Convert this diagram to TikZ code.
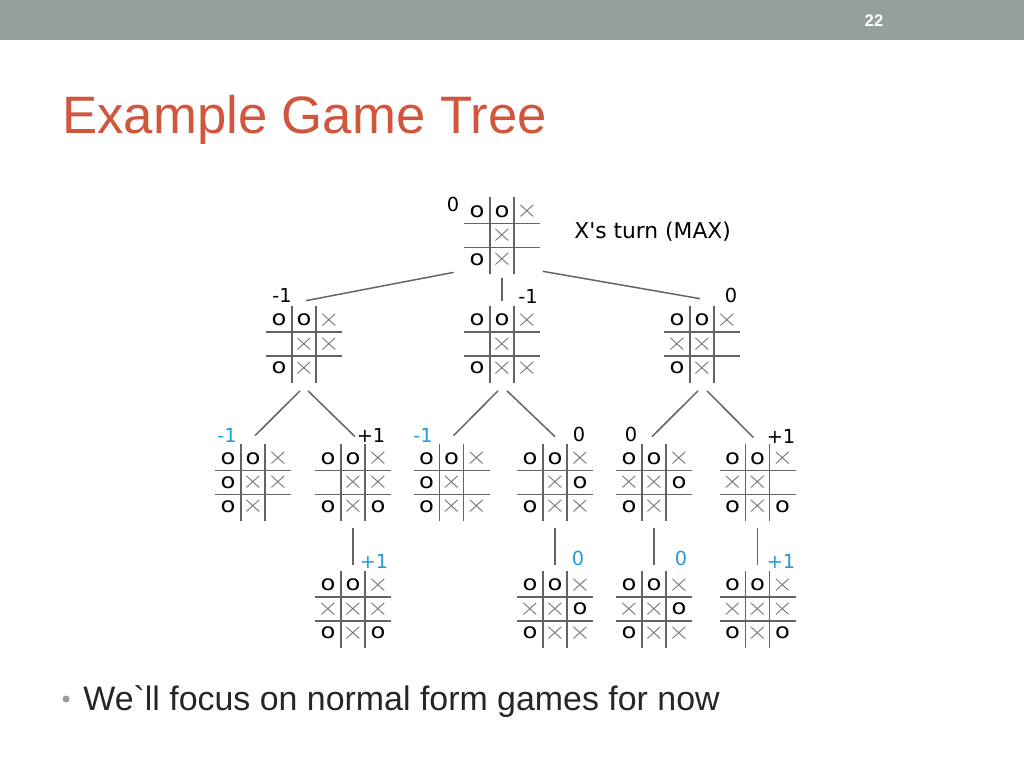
\documentclass[tikz,border=0pt]{standalone}
\usepackage{fontspec}
\setmainfont{Liberation Sans}
\newfontfamily\vfont{DejaVu Sans}

\definecolor{barcolor}{RGB}{148,161,155}
\definecolor{titlered}{RGB}{208,86,62}
\definecolor{bodytext}{RGB}{38,38,38}
\definecolor{linegray}{RGB}{100,100,100}
\definecolor{markgray}{RGB}{115,115,115}
\definecolor{leafblue}{RGB}{35,155,220}

% marks inside the cells
\newcommand{\markO}{{\vfont\fontsize{12pt}{12pt}\selectfont\scalebox{1.15}[1]{o}}}
\newcommand{\markX}{{\fontsize{14.4pt}{14.4pt}\selectfont\color{markgray}\scalebox{1.1}[1]{$\times$}}}
\newcommand{\markN}{}

% \board{name}{x}{y}{nine marks, row by row}
\newcommand{\board}[4]{%
  \node[boardbox] (#1) at (#2,#3) {};
  \draw[gridline] ([shift={(-38,-12)}]#1.center) -- ++(76,0)
                  ([shift={(-38,12)}]#1.center) -- ++(76,0)
                  ([shift={(-12,-38.5)}]#1.center) -- ++(0,77)
                  ([shift={(12,-38.5)}]#1.center) -- ++(0,77);
  \foreach \m [count=\i from 0] in {#4} {
    \pgfmathtruncatemacro\bcol{mod(\i,3)-1}
    \pgfmathtruncatemacro\brow{div(\i,3)-1}
    \node[cellmark] (#1-\i) at ([shift={(25*\bcol,24*\brow)}]#1.center) {\m};
  }%
}

\begin{document}
\begin{tikzpicture}[
    x=0.02cm, y=-0.02cm,
    boardbox/.style={minimum width=1.52cm, minimum height=1.54cm, inner sep=0pt},
    gridline/.style={draw=linegray, line width=0.85pt},
    cellmark/.style={inner sep=0pt, anchor=center},
    branch/.style={draw=linegray, line width=0.85pt},
    val/.style={font=\vfont\fontsize{11pt}{11pt}\selectfont, inner sep=0pt, text=black},
    leafval/.style={val, text=leafblue}
]

\useasboundingbox (0,0) rectangle (1024,768);
\fill[white] (0,0) rectangle (1024,768);

% Slide header and title
\fill[barcolor] (0,0) rectangle (1024,40);
\node[font=\bfseries\fontsize{9.5pt}{9.5pt}\selectfont, text=white, inner sep=0pt] (page) at (874,21) {22};
\node[font=\fontsize{30pt}{36pt}\selectfont, text=titlered, inner sep=0pt, anchor=base west]
    (title) at (62,133) {Example Game Tree};

% Root
\board{root}{502}{235.5}{\markO,\markO,\markX,\markN,\markX,\markN,\markO,\markX,\markN}
\node[val] (v0) at (453,204) {0};
\node[font=\vfont\fontsize{12.4pt}{12.4pt}\selectfont, inner sep=0pt, anchor=base west]
    (turn) at (574,238) {X's turn (MAX)};

% First level
\board{a}{304}{344}{\markO,\markO,\markX,\markN,\markX,\markX,\markO,\markX,\markN}
\board{b}{502}{344}{\markO,\markO,\markX,\markN,\markX,\markN,\markO,\markX,\markX}
\board{c}{702}{344}{\markO,\markO,\markX,\markX,\markX,\markN,\markO,\markX,\markN}
\node[val] (va) at (282,295) {-1};
\node[val] (vb) at (528,296) {-1};
\node[val] (vc) at (731,295) {0};

% Second level
\board{aa}{253}{482.5}{\markO,\markO,\markX,\markO,\markX,\markX,\markO,\markX,\markN}
\board{ab}{353}{482.5}{\markO,\markO,\markX,\markN,\markX,\markX,\markO,\markX,\markO}
\board{ba}{451.5}{482.5}{\markO,\markO,\markX,\markO,\markX,\markN,\markO,\markX,\markX}
\board{bb}{555}{482.5}{\markO,\markO,\markX,\markN,\markX,\markO,\markO,\markX,\markX}
\board{ca}{654}{482.5}{\markO,\markO,\markX,\markX,\markX,\markO,\markO,\markX,\markN}
\board{cb}{757.5}{482.5}{\markO,\markO,\markX,\markX,\markX,\markN,\markO,\markX,\markO}
\node[leafval] (vaa) at (227,435) {-1};
\node[val]     (vab) at (371,435) {+1};
\node[leafval] (vba) at (423,435) {-1};
\node[val]     (vbb) at (579,434) {0};
\node[val]     (vca) at (631,434) {0};
\node[val]     (vcb) at (781,436) {+1};

% Third level
\board{abx}{353}{609}{\markO,\markO,\markX,\markX,\markX,\markX,\markO,\markX,\markO}
\board{bbx}{555}{609}{\markO,\markO,\markX,\markX,\markX,\markO,\markO,\markX,\markX}
\board{cax}{654}{609}{\markO,\markO,\markX,\markX,\markX,\markO,\markO,\markX,\markX}
\board{cbx}{757.5}{609}{\markO,\markO,\markX,\markX,\markX,\markX,\markO,\markX,\markO}
\node[leafval] (vabx) at (374,561) {+1};
\node[leafval] (vbbx) at (578,558) {0};
\node[leafval] (vcax) at (681,558) {0};
\node[leafval] (vcbx) at (781,561) {+1};

% Branches
\draw[branch] ([shift={(-10,-2)}]root.south west) -- ([shift={(2,-4.5)}]a.north);
\draw[branch] ([shift={(0,4)}]root.south) -- ([shift={(0,-4)}]b.north);
\draw[branch] ([shift={(2.5,-3)}]root.south east) -- ([shift={(-2,-6.5)}]c.north);

\draw[branch] ([shift={(-4,8)}]a.south) -- ([shift={(2,-8)}]aa.north);
\draw[branch] ([shift={(4,8)}]a.south) -- ([shift={(2,-7)}]ab.north);
\draw[branch] ([shift={(-4,8)}]b.south) -- ([shift={(2,-8)}]ba.north);
\draw[branch] ([shift={(5,8)}]b.south) -- ([shift={(0,-7)}]bb.north);
\draw[branch] ([shift={(-4,8)}]c.south) -- ([shift={(-2,-7)}]ca.north);
\draw[branch] ([shift={(5,8)}]c.south) -- ([shift={(-4,-6)}]cb.north);

\draw[branch] ([shift={(0,7)}]ab.south) -- ([shift={(0,-5)}]abx.north);
\draw[branch] ([shift={(0,7)}]bb.south) -- ([shift={(0,-5)}]bbx.north);
\draw[branch] ([shift={(0,7)}]ca.south) -- ([shift={(0,-5)}]cax.north);
\draw[branch] ([shift={(0,7)}]cb.south) -- ([shift={(0,-5)}]cbx.north);

% Bullet line
\node[circle, fill=barcolor, minimum size=0.14cm, inner sep=0pt] (dot) at (66,699) {};
\node[font=\fontsize{19.3pt}{23pt}\selectfont, text=bodytext, inner sep=0pt, anchor=base west]
    (point) at (83,710) {We\textasciigrave ll focus on normal form games for now};

\end{tikzpicture}
\end{document}
